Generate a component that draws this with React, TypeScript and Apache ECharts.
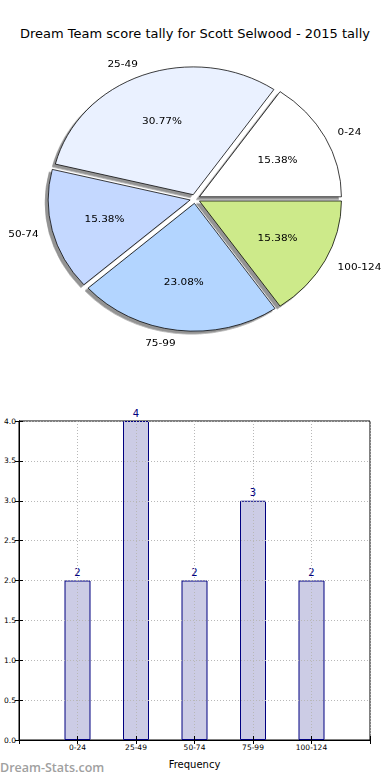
import React, { useEffect, useRef } from 'react';
import * as echarts from 'echarts';

const chartTitle = 'Dream Team score tally for Scott Selwood - 2015 tally';
const categories = ['0-24', '25-49', '50-74', '75-99', '100-124'];
const counts = [2, 4, 2, 3, 2];
const sliceColors = ['#FFFFFF', '#EAF1FF', '#C4D8FF', '#B3D5FF', '#CDEA8A'];
const xAxisName = 'Frequency';
const watermark = 'Dream-Stats.com';

const FONT = 'DejaVu Sans';

export default function App() {
  const mainRef = useRef<HTMLDivElement>(null);
  const pieRef = useRef<HTMLDivElement>(null);

  useEffect(() => {
    document.body.style.margin = '0';
    const main = echarts.init(mainRef.current!, undefined, { renderer: 'svg' });
    const pie = echarts.init(pieRef.current!, undefined, { renderer: 'svg' });
    const total = counts.reduce((a, b) => a + b, 0);

    const pieData = categories.map((name, i) => ({
      name,
      value: counts[i],
      selected: true,
      itemStyle: { color: sliceColors[i] },
    }));

    const R = 142;
    const center = [195, 221];

    pie.setOption({
      animation: false,
      textStyle: { fontFamily: FONT },
      series: [
        {
          type: 'pie',
          center,
          radius: R,
          startAngle: 0,
          clockwise: false,
          selectedMode: 'multiple',
          selectedOffset: 5,
          avoidLabelOverlap: false,
          silent: true,
          emphasis: { disabled: true },
          data: pieData,
          itemStyle: {
            borderColor: '#000',
            borderWidth: 0.8,
            shadowBlur: 0,
            shadowOffsetX: -3,
            shadowOffsetY: 3,
            shadowColor: 'rgba(40,40,40,0.5)',
          },
          label: {
            show: true,
            position: 'outside',
            formatter: '{b}',
            fontSize: 10.5,
            color: '#000',
            fontFamily: FONT,
            distanceToLabelLine: 0,
          },
          labelLine: { show: false, length: 14, length2: 0 },
        },
        {
          type: 'pie',
          center,
          radius: R * 1.2,
          startAngle: 0,
          clockwise: false,
          selectedMode: 'multiple',
          selectedOffset: 5,
          avoidLabelOverlap: false,
          silent: true,
          emphasis: { disabled: true },
          data: pieData.map((d) => ({ ...d, itemStyle: { color: 'rgba(0,0,0,0)' } })),
          itemStyle: { borderWidth: 0, color: 'rgba(0,0,0,0)' },
          label: {
            show: true,
            position: 'inside',
            rotate: 0,
            fontSize: 10.5,
            color: '#000',
            fontFamily: FONT,
            formatter: (p: any) => ((p.value / total) * 100).toFixed(2) + '%',
          },
          labelLine: { show: false },
        },
      ],
    });

    const gridLine = { show: true, lineStyle: { color: '#b8b8b8', type: [1, 2], width: 1 } };

    main.setOption({
      animation: false,
      textStyle: { fontFamily: FONT },
      title: {
        text: chartTitle,
        left: 'center',
        top: 22,
        textStyle: { fontSize: 13, fontWeight: 'normal', color: '#000', fontFamily: FONT },
      },
      graphic: [
        {
          type: 'text',
          left: 0,
          top: 761,
          style: { text: watermark, fill: '#a0a0a0', font: `600 12.5px "Open Sans"` },
        },
      ],
      grid: {
        left: 19,
        right: 20,
        top: 421,
        bottom: 40,
        show: true,
        borderColor: '#000',
        borderWidth: 1,
        backgroundColor: 'transparent',
      },
      xAxis: [
        {
          type: 'value',
          min: 0,
          max: 6,
          interval: 1,
          z: 5,
          name: xAxisName,
          nameLocation: 'middle',
          nameGap: 19,
          nameTextStyle: { fontSize: 10, color: '#000', fontFamily: FONT },
          axisLine: { show: true, lineStyle: { color: '#000' } },
          axisTick: { show: true, inside: true, length: 4, lineStyle: { color: '#000' } },
          axisLabel: {
            fontSize: 7.5,
            color: '#000',
            margin: 3,
            formatter: (v: number) => categories[v - 1] ?? '',
          },
          splitLine: gridLine,
        },
        {
          type: 'value',
          position: 'top',
          min: 0,
          max: 6,
          interval: 1,
          z: 5,
          axisLine: { show: true, lineStyle: { color: '#000' } },
          axisTick: { show: true, inside: true, length: 4, lineStyle: { color: '#000' } },
          axisLabel: { show: false },
          splitLine: { show: false },
        },
      ],
      yAxis: [
        {
          type: 'value',
          min: 0,
          max: 4,
          interval: 0.5,
          z: 5,
          axisLine: { show: true, lineStyle: { color: '#000' } },
          axisTick: { show: true, inside: true, length: 4, lineStyle: { color: '#000' } },
          axisLabel: {
            fontSize: 7.5,
            color: '#000',
            margin: 3,
            formatter: (v: number) => v.toFixed(1),
          },
          splitLine: gridLine,
        },
        {
          type: 'value',
          position: 'right',
          min: 0,
          max: 4,
          interval: 0.5,
          z: 5,
          axisLine: { show: true, lineStyle: { color: '#000' } },
          axisTick: { show: true, inside: true, length: 4, lineStyle: { color: '#000' } },
          axisLabel: { show: false },
          splitLine: { show: false },
        },
      ],
      series: [
        {
          type: 'bar',
          xAxisIndex: 0,
          yAxisIndex: 0,
          barWidth: 26,
          data: counts.map((v, i) => [i + 1, v]),
          itemStyle: { color: '#CCCCE5', borderColor: '#000080', borderWidth: 1 },
          label: {
            show: true,
            position: 'top',
            distance: 3,
            fontSize: 10,
            color: '#000080',
            fontFamily: FONT,
            formatter: (p: any) => String(p.value[1]),
          },
          silent: true,
        },
      ],
    });

    return () => {
      main.dispose();
      pie.dispose();
    };
  }, []);

  return (
    <div style={{ position: 'absolute', left: 0, top: 0, width: 390, height: 780, background: '#fff' }}>
      <div ref={mainRef} style={{ position: 'absolute', left: 0, top: 0, width: 390, height: 780 }} />
      <div
        ref={pieRef}
        style={{
          position: 'absolute',
          left: 0,
          top: 0,
          width: 390,
          height: 390,
          transform: 'scaleY(0.9)',
          transformOrigin: '0 0',
        }}
      />
    </div>
  );
}
